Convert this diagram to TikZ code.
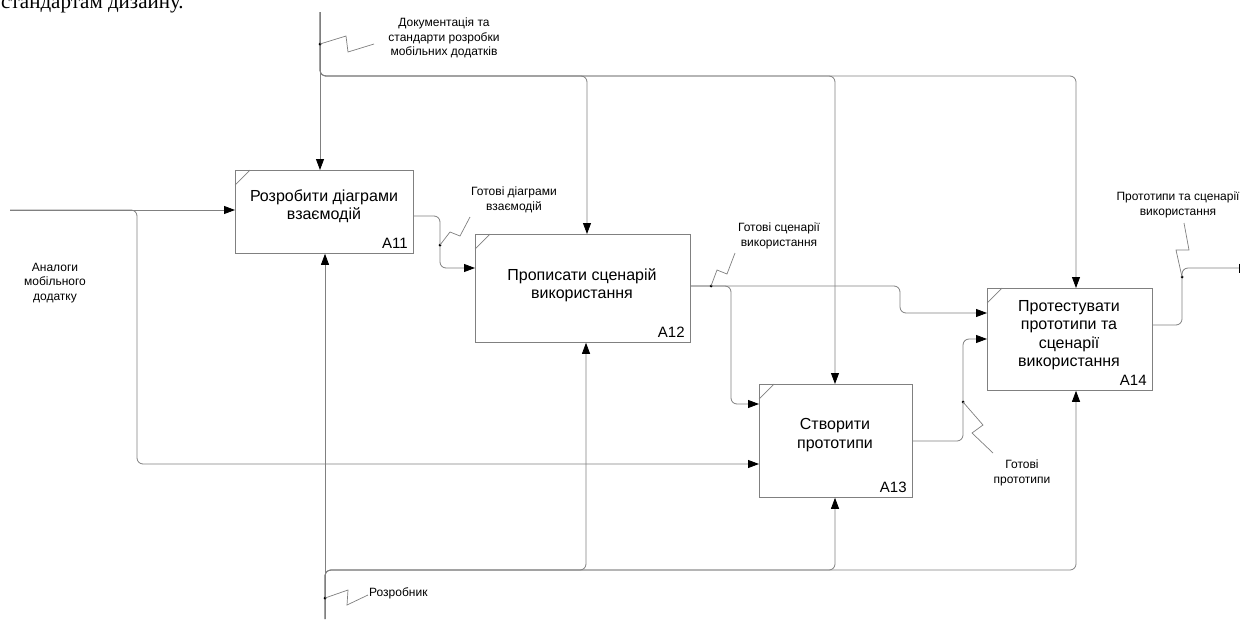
\documentclass[tikz,border=0pt]{standalone}
\usepackage{fontspec}
\setmainfont{Liberation Sans}
\newfontfamily\serifT{Liberation Serif}
\usetikzlibrary{arrows.meta}
\definecolor{lg}{RGB}{128,128,128}
\begin{document}
\begin{tikzpicture}[x=1pt,y=-1pt,
  box/.style={draw=lg, line width=0.8pt, inner sep=0pt, anchor=north west},
  conn/.style={draw=lg, line width=0.8pt, rounded corners=6pt},
  arr/.style={-{Triangle[length=11pt,width=8pt,color=black]}},
  barend/.style={-{Bar[width=9pt,color=black,line width=1pt]}},
  lbl/.style={font=\fontsize{12}{14.5}\selectfont, align=center, inner sep=0pt},
  btxt/.style={font=\fontsize{16}{18.5}\selectfont, align=center, inner sep=0pt},
  bid/.style={font=\fontsize{15}{18}\selectfont, anchor=south east, inner sep=0pt},
  sq/.style={draw=lg, line width=0.7pt},
  dot/.style={circle, fill=black, inner sep=0pt, minimum size=3pt}]
\fill[white] (0,0) rectangle (1243,619);
\useasboundingbox (0,0) rectangle (1243,619);

% top cut text (cut off by the page edge, as in the reference)
\node[font=\serifT\fontsize{21}{24}\selectfont, anchor=base west, inner sep=0pt] (top) at (1,8) {стандартам дизайну.};

% boxes
\node[box, minimum width=178pt, minimum height=83pt] (A11) at (235,170) {};
\node[box, minimum width=215pt, minimum height=108pt] (A12) at (475,234) {};
\node[box, minimum width=153pt, minimum height=113pt] (A13) at (759,384) {};
\node[box, minimum width=165pt, minimum height=102pt] (A14) at (987,288) {};
\foreach \b in {A11,A12,A13,A14}{
  \draw[sq] ([yshift=-15pt]\b.north west) -- ([xshift=15pt]\b.north west);
}
\node[btxt] (A11t) at (324,206) {Розробити діаграми\\взаємодій};
\node[btxt] (A12t) at (582,285) {Прописати сценарій\\використання};
\node[btxt] (A13t) at (835,435) {Створити\\прототипи};
\node[btxt] (A14t) at (1069,335) {Протестувати\\прототипи та\\сценарії\\використання};
\node[bid] (A11id) at ([xshift=-6pt,yshift=5pt]A11.south east) {A11};
\node[bid] (A12id) at ([xshift=-6pt,yshift=5pt]A12.south east) {A12};
\node[bid] (A13id) at ([xshift=-6pt,yshift=5pt]A13.south east) {A13};
\node[bid] (A14id) at ([xshift=-6pt,yshift=5pt]A14.south east) {A14};

% coordinates
\coordinate (inL) at (10,210);
\coordinate (inB) at (137,210);
\coordinate (inC) at (137,464);
\coordinate (ctlT) at (320,12);
\coordinate (ctlJ) at (320,76);
\coordinate (c2) at (587,76);
\coordinate (c3) at (835,76);
\coordinate (c4) at (1076,76);
\coordinate (mecB) at (325,619);
\coordinate (mecJ) at (325,570);
\coordinate (m2) at (586,570);
\coordinate (m3) at (835,570);
\coordinate (m4) at (1076,570);
\coordinate (o1a) at (440,216);
\coordinate (o1b) at (440,268);
\coordinate (o2s) at (690,286);
\coordinate (o2a) at (731,286);
\coordinate (o2b) at (731,404);
\coordinate (o2c) at (900,286);
\coordinate (o2d) at (900,313);
\coordinate (o3a) at (963,441);
\coordinate (o3b) at (963,339);
\coordinate (o4a) at (1182,325);
\coordinate (o4b) at (1182,268);
\coordinate (o4e) at (1240,268);

% input
\draw[conn,arr] (inL) -- (inL -| A11.west);
\draw[conn,arr] (inL) -- (inB) -- (inC) -- (inC -| A13.west);
% control
\draw[conn,arr] (ctlT) -- (ctlT |- A11.north);
\draw[conn,arr] (ctlT) -- (ctlJ) -- (c2) -- (c2 |- A12.north);
\draw[conn,arr] (ctlT) -- (ctlJ) -- (c3) -- (c3 |- A13.north);
\draw[conn,arr] (ctlT) -- (ctlJ) -- (c4) -- (c4 |- A14.north);
% mechanism
\draw[conn,arr] (mecB) -- (mecB |- A11.south);
\draw[conn,arr] (mecB) -- (mecJ) -- (m2) -- (m2 |- A12.south);
\draw[conn,arr] (mecB) -- (mecJ) -- (m3) -- (m3 |- A13.south);
\draw[conn,arr] (mecB) -- (mecJ) -- (m4) -- (m4 |- A14.south);
% outputs
\draw[conn,arr] (o1a -| A11.east) -- (o1a) -- (o1b) -- (o1b -| A12.west);
\draw[conn,arr] (o2s) -- (o2a) -- (o2b) -- (o2b -| A13.west);
\draw[conn,arr] (o2s) -- (o2c) -- (o2d) -- (o2d -| A14.west);
\draw[conn,arr] (o3a -| A13.east) -- (o3a) -- (o3b) -- (o3b -| A14.west);
\draw[conn,barend] (o4a -| A14.east) -- (o4a) -- (o4b) -- (o4e);

% dots and squiggles
\node[dot] (d1) at (320,44) {};
\draw[sq] (d1.center) -- (346,36) -- (348,52) -- (374,44);
\node[lbl] (L1) at (444,38) {Документація та\\стандарти розробки\\мобільних додатків};

\node[dot] (d2) at (325,598) {};
\draw[sq] (d2.center) -- (348,590) -- (347,605) -- (368,595);
\node[lbl, anchor=west] (L2) at (369,593) {Розробник};

\node[dot] (d3) at (440,245) {};
\draw[sq] (d3.center) -- (450,232) -- (460,236) -- (470,217);
\node[lbl] (L3) at (514,200) {Готові діаграми\\взаємодій};

\node[dot] (d4) at (711,286) {};
\draw[sq] (d4.center) -- (717,270) -- (727,274) -- (735,253);
\node[lbl] (L4) at (779,236) {Готові сценарії\\використання};

\node[dot] (d5) at (963,402) {};
\draw[sq] (d5.center) -- (983,425) -- (972,433) -- (993,453);
\node[lbl] (L5) at (1022,473) {Готові\\прототипи};

\node[dot] (d6) at (1182,277) {};
\draw[sq] (d6.center) -- (1176,250) -- (1189,250) -- (1184,223);
\node[lbl] (L6) at (1178,205) {Прототипи та сценарії\\використання};

\node[lbl] (L7) at (55,283) {Аналоги\\мобільного\\додатку};
\end{tikzpicture}
\end{document}
